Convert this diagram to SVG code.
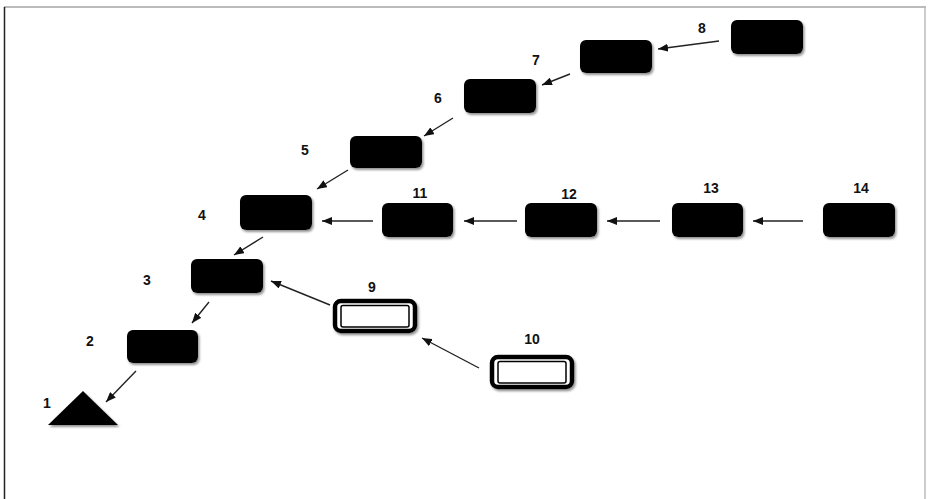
<svg xmlns="http://www.w3.org/2000/svg" width="928" height="499" viewBox="0 0 928 499">
<style>
.box{fill:#000;}
.lbl{font-family:"Liberation Sans",Arial,sans-serif;font-size:14px;font-weight:bold;fill:#111;text-anchor:middle;}
.edge{stroke:#222;stroke-width:1.4;fill:none;marker-end:url(#ah);}
.dbl-o{fill:#fff;stroke:#000;stroke-width:4.5;}
.dbl-i{fill:#fff;stroke:#000;stroke-width:1.5;}
</style>
<defs>
<marker id="ah" viewBox="0 0 10 8" refX="10" refY="4" markerWidth="10" markerHeight="8" markerUnits="userSpaceOnUse" orient="auto">
<path d="M0,0 L10,4 L0,8 Z" fill="#111"/>
</marker>
<filter id="sh" x="-10%" y="-10%" width="130%" height="140%">
<feDropShadow dx="1.5" dy="2" stdDeviation="1" flood-color="#777" flood-opacity="0.8"/>
</filter>
</defs>
<rect x="0" y="0" width="928" height="499" fill="#fff"/>
<g id="frame">
<line x1="4" y1="7" x2="926" y2="7" stroke="#bbb" stroke-width="2"/>
<line x1="925" y1="7" x2="925" y2="499" stroke="#bbb" stroke-width="1.5"/>
<line x1="4.5" y1="7" x2="4.5" y2="499" stroke="#222" stroke-width="1.5"/>
</g>
<g id="connectors">
<line class="edge" x1="719" y1="41" x2="658" y2="49"/>
<line class="edge" x1="570" y1="74" x2="542" y2="85"/>
<line class="edge" x1="453" y1="118" x2="424" y2="136"/>
<line class="edge" x1="348" y1="170" x2="317" y2="189"/>
<line class="edge" x1="263" y1="237" x2="234" y2="255"/>
<line class="edge" x1="209" y1="302" x2="192" y2="323"/>
<line class="edge" x1="136" y1="371" x2="106" y2="402"/>
<line class="edge" x1="373" y1="221" x2="322" y2="221"/>
<line class="edge" x1="517" y1="221" x2="464" y2="221"/>
<line class="edge" x1="660" y1="221" x2="607" y2="221"/>
<line class="edge" x1="803" y1="221" x2="753" y2="221"/>
<line class="edge" x1="330" y1="305" x2="271" y2="281"/>
<line class="edge" x1="479" y1="368" x2="422" y2="338"/>
</g>
<g id="n1"><polygon points="83,391 48,425 118,425" fill="#000" filter="url(#sh)"/><text class="lbl" x="47" y="408">1</text></g>
<g id="n2"><rect class="box" x="127" y="330" width="71" height="33" rx="6" filter="url(#sh)"/><text class="lbl" x="90" y="346">2</text></g>
<g id="n3"><rect class="box" x="191" y="259" width="72" height="34" rx="6" filter="url(#sh)"/><text class="lbl" x="147" y="285">3</text></g>
<g id="n4"><rect class="box" x="240" y="195" width="72" height="35" rx="6" filter="url(#sh)"/><text class="lbl" x="202" y="220">4</text></g>
<g id="n5"><rect class="box" x="350" y="136" width="72" height="32" rx="6" filter="url(#sh)"/><text class="lbl" x="305" y="155">5</text></g>
<g id="n6"><rect class="box" x="464" y="79" width="72" height="34" rx="6" filter="url(#sh)"/><text class="lbl" x="438" y="103">6</text></g>
<g id="n7"><rect class="box" x="580" y="40" width="72" height="33" rx="6" filter="url(#sh)"/><text class="lbl" x="536" y="65">7</text></g>
<g id="n8"><rect class="box" x="731" y="20" width="72" height="34" rx="6" filter="url(#sh)"/><text class="lbl" x="702" y="33">8</text></g>
<g id="n9"><rect class="dbl-o" x="335" y="301" width="80" height="30" rx="6" filter="url(#sh)"/><rect class="dbl-i" x="341" y="305.5" width="68" height="21.5" rx="2"/><text class="lbl" x="372" y="292">9</text></g>
<g id="n10"><rect class="dbl-o" x="492" y="357" width="80" height="30" rx="6" filter="url(#sh)"/><rect class="dbl-i" x="498" y="361.5" width="68" height="21.5" rx="2"/><text class="lbl" x="532" y="344">10</text></g>
<g id="n11"><rect class="box" x="382" y="203" width="71" height="34" rx="6" filter="url(#sh)"/><text class="lbl" x="420" y="198">11</text></g>
<g id="n12"><rect class="box" x="525" y="203" width="72" height="34" rx="6" filter="url(#sh)"/><text class="lbl" x="569" y="199">12</text></g>
<g id="n13"><rect class="box" x="672" y="203" width="71" height="34" rx="6" filter="url(#sh)"/><text class="lbl" x="711" y="193">13</text></g>
<g id="n14"><rect class="box" x="823" y="203" width="72" height="34" rx="6" filter="url(#sh)"/><text class="lbl" x="861" y="193">14</text></g>
</svg>
